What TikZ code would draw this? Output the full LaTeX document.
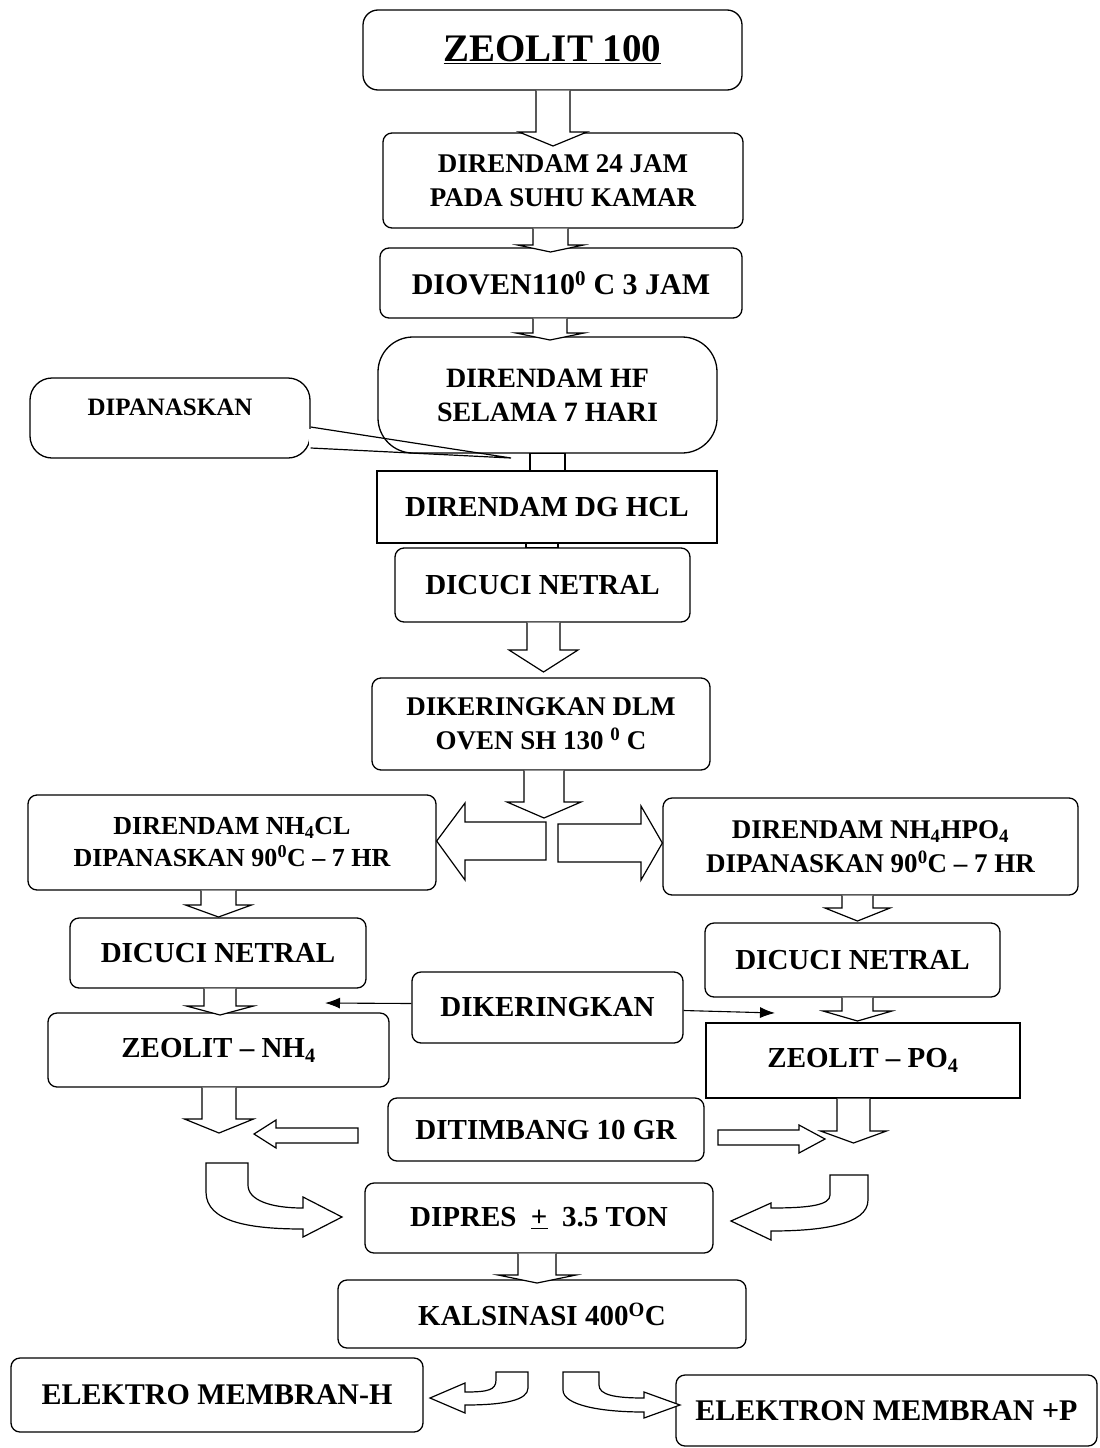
\documentclass[tikz,border=0pt]{standalone}
\usepackage{fontspec}
\setmainfont{Liberation Serif}
\usetikzlibrary{calc,arrows.meta}
\newcommand\bdown[7]{% #1 from node, #2 cx, #3 shaft half, #4 head half, #5 head base y, #6 tip y, #7 name
  \draw[barrow] let \p1=(#1.south), \p2=(#2-#3,#5), \p3=(#2-#4,#5), \p4=(#2,#6), \p5=(#2+#4,#5), \p6=(#2+#3,#5) in
    (\x2,\y1) -- (\p2) -- (\p3) -- (\p4) coordinate (#7) -- (\p5) -- (\p6) -- (\x6,\y1);}
\begin{document}
\begin{tikzpicture}[x=1pt,y=-1pt,
  box/.style={draw, line width=1.3pt, fill=white, rounded corners=9pt, align=center, inner sep=0pt},
  sbox/.style={box, rounded corners=0pt},
  barrow/.style={draw, fill=white, line width=1.2pt, line join=miter},
  thinarrow/.style={line width=1.1pt, -{Latex[length=15pt,width=11pt]}},
  f24/.style={font=\bfseries\fontsize{25}{30}\selectfont},
  f26/.style={font=\bfseries\fontsize{26}{32}\selectfont},
  f27/.style={font=\bfseries\fontsize{27}{34}\selectfont},
  f28/.style={font=\bfseries\fontsize{28}{34}\selectfont},
  f29/.style={font=\bfseries\fontsize{29}{34}\selectfont},
  f30/.style={font=\bfseries\fontsize{30}{36}\selectfont},
]
\useasboundingbox[fill=white] (0,0) rectangle (1100,1448);

% ---- boxes ----
\node[box, rounded corners=15pt, minimum width=379pt, minimum height=80pt, font=\bfseries\fontsize{39}{46}\selectfont] (z) at (552.5,50) {\underline{ZEOLIT 100}};
\node[box, f27, minimum width=360pt, minimum height=95pt] (d24) at (563,180.5) {DIRENDAM 24 JAM\\PADA SUHU KAMAR};
\node[box, f30, minimum width=362pt, minimum height=70pt] (oven) at (561,283) {DIOVEN110\textsuperscript{0} C 3 JAM};
\node[box, f28, rounded corners=35pt, minimum width=339pt, minimum height=116pt] (hf) at (547.5,395) {DIRENDAM HF\\SELAMA 7 HARI};
\node[box, f24, rounded corners=22pt, minimum width=280pt, minimum height=80pt, text depth=22pt] (cp) at (170,418) {DIPANASKAN};
\node[sbox, f29, minimum width=340pt, minimum height=72pt] (hcl) at (547,507) {DIRENDAM DG HCL};
\node[box, f29, minimum width=295pt, minimum height=74pt] (dn1) at (542.5,585) {DICUCI NETRAL};
\node[box, f27, minimum width=338pt, minimum height=92pt] (dlm) at (541,724) {DIKERINGKAN DLM\\OVEN SH 130 \textsuperscript{0} C};
\node[box, f26, minimum width=408pt, minimum height=95pt] (nh4) at (232,842.5) {DIRENDAM NH\textsubscript{4}CL\\DIPANASKAN 90\textsuperscript{0}C -- 7 HR};
\node[box, f27, minimum width=415pt, minimum height=97pt] (hpo) at (870.5,846.5) {DIRENDAM NH\textsubscript{4}HPO\textsubscript{4}\\DIPANASKAN 90\textsuperscript{0}C -- 7 HR};
\node[box, f29, minimum width=296pt, minimum height=70pt] (dnl) at (218,953) {DICUCI NETRAL};
\node[box, f29, minimum width=295pt, minimum height=74pt] (dnr) at (852.5,960) {DICUCI NETRAL};
\node[box, f29, minimum width=271pt, minimum height=71pt] (dk) at (547.5,1007.5) {DIKERINGKAN};
\node[box, f29, minimum width=341pt, minimum height=74pt] (znh) at (218.5,1050) {ZEOLIT -- NH\textsubscript{4}};
\node[sbox, f29, minimum width=314pt, minimum height=75pt] (zpo) at (863,1060.5) {ZEOLIT -- PO\textsubscript{4}};
\node[box, f29, minimum width=316pt, minimum height=63pt] (tim) at (546,1129.5) {DITIMBANG 10 GR};
\node[box, f29, minimum width=348pt, minimum height=70pt] (pres) at (539,1218) {DIPRES\ \ \underline{+}\ \ 3.5 TON};
\node[box, f29, minimum width=408pt, minimum height=68pt] (kal) at (542,1314) {KALSINASI 400\textsuperscript{O}C};
\node[box, f30, minimum width=412pt, minimum height=74pt] (eh) at (217,1395) {ELEKTRO MEMBRAN-H};
\node[box, f30, minimum width=421pt, minimum height=71pt] (ep) at (886.5,1410.5) {ELEKTRON MEMBRAN +P};

% ---- callout pointer ----
\coordinate (ptip) at (511,458);
\draw[white, line width=3pt] ([yshift=-10.5pt]cp.east) -- ([yshift=-28.5pt]cp.east);
\draw[line width=1.2pt, line join=miter] ([yshift=-9pt]cp.east) -- (ptip) -- ([yshift=-30pt]cp.east);

% ---- straight block arrows ----
\bdown{z}{553}{17}{34}{132}{146}{t1}
\bdown{d24}{550.5}{17.5}{33}{245}{252}{t2}
\bdown{oven}{550}{17}{34}{333}{340}{t3}
\draw[barrow] let \p1=(hf.south), \p2=(hcl.north) in (530pt,\y1) rectangle (565pt,\y2);
\draw[barrow] let \p1=(hcl.south), \p2=(dn1.north) in (526pt,\y1) rectangle (558pt,\y2);
\bdown{dn1}{543.5}{16.5}{34.5}{650}{672}{t6}
\bdown{dlm}{544}{20}{37}{802}{818}{t7}
\bdown{nh4}{218.5}{17.5}{33}{905}{917}{t8}
\bdown{hpo}{857.5}{15.5}{32.5}{908}{921}{t9}
\bdown{dnl}{220}{16}{33.5}{1006}{1015}{t10}
\bdown{dnr}{857.5}{15.5}{34.5}{1011}{1021}{t11}
\bdown{znh}{219}{17}{34.5}{1119}{1133}{t12}
\bdown{zpo}{853.5}{16.5}{33}{1131}{1143}{t13}
\bdown{pres}{537}{19}{39}{1275}{1283}{t14}

% ---- split arrows under DLM ----
\draw[barrow] (546,822) -- (465,822) -- (465,803) -- (nh4.east |- 0,841) -- (465,880) -- (465,860) -- (546,860) -- cycle;
\draw[barrow] (558,824) -- (641,824) -- (641,806) -- (hpo.west |- 0,843) -- (641,880) -- (641,862) -- (558,862) -- cycle;

% ---- DIKERINGKAN thin arrows ----
\coordinate (dkl) at (325,1003);
\coordinate (dkr) at (775,1013);
\draw[thinarrow] ([yshift=4pt]dk.west) -- (dkl);
\draw[thinarrow] ([yshift=-3pt]dk.east) -- (dkr);

% ---- horizontal arrows from DITIMBANG ----
\draw[barrow] (358,1128) -- (276,1128) -- (276,1120) -- (254,1134) -- (276,1148) -- (276,1143) -- (358,1143) -- cycle;
\draw[barrow] (718,1130) -- (799,1130) -- (799,1125) -- (825,1139) -- (799,1153) -- (799,1145) -- (718,1145) -- cycle;

% ---- curved arrows to DIPRES ----
\draw[barrow] (206,1163) -- (248,1163) -- (248,1185) .. controls (248,1200) and (270,1208) .. (303,1208) -- (303,1197) -- (342,1217) -- (303,1237) -- (303,1229) .. controls (250,1229) and (206,1222) .. (206,1192) -- cycle;
\draw[barrow] (868,1175) -- (830,1175) -- (830,1195) .. controls (830,1205) and (810,1208) .. (771,1208) -- (771,1203) -- (731,1221) -- (771,1240) -- (771,1231) .. controls (820,1231) and (868,1225) .. (868,1200) -- cycle;

% ---- curved arrows at bottom ----
\draw[barrow] (496,1372) -- (528,1372) -- (528,1388) .. controls (528,1400) and (505,1405) .. (465,1405) -- (465,1413) -- (430,1398) -- (465,1383) -- (465,1392) .. controls (488,1392) and (496,1390) .. (496,1380) -- cycle;
\draw[barrow] (563,1372) -- (599,1372) -- (599,1385) .. controls (599,1395) and (615,1398) .. (644,1398) -- (644,1392) -- (680,1405) -- (644,1418) -- (644,1412) .. controls (600,1412) and (563,1405) .. (563,1390) -- cycle;
\end{tikzpicture}
\end{document}
